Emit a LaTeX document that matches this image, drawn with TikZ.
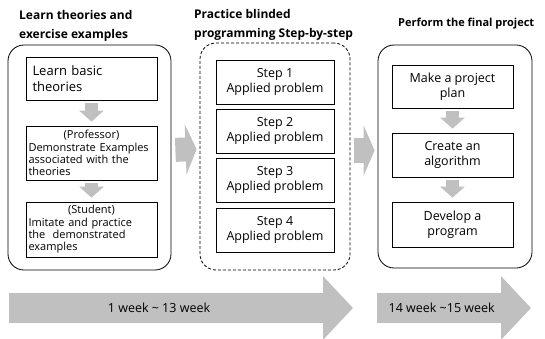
\documentclass[tikz,border=0pt]{standalone}
\usepackage{fontspec}
\setmainfont{Open Sans}
\usetikzlibrary{arrows.meta,positioning}
\definecolor{arrowgray}{RGB}{192,192,192}
\hyphenpenalty=10000
\begin{document}
\begin{tikzpicture}[x=1pt,y=-1pt]
    \tikzset{stage/.style = {draw, rounded corners=16pt, line width=0.8pt}}
    \tikzset{task/.style = {draw, line width=0.7pt, align=center, minimum width=131pt, minimum height=44pt, font=\fontsize{12.5}{15}\selectfont}}
    \tikzset{note/.style = {task, align=left, text width=126pt, inner xsep=2.5pt, font=\fontsize{11}{12.3}\selectfont}}
    \tikzset{heading/.style = {anchor=west, align=left, inner sep=0pt, font=\fontsize{12}{19}\selectfont\bfseries}}
    \tikzset{downarrow/.style = {arrowgray, line width=13pt, -{Triangle[length=11pt,width=24pt]}, shorten <=3pt, shorten >=4pt}}
    \tikzset{phasearrow/.style = {arrowgray, line width=24pt, -{Triangle[length=11pt,width=50pt]}, shorten <=4pt, shorten >=3pt}}
    \tikzset{weekarrow/.style = {arrowgray, line width=30pt, -{Triangle[length=30pt,width=62pt]}}}
    \useasboundingbox (0,0) rectangle (545,339);

    % headings
    \node[heading] (t1) at (19,26) {Learn theories and\\exercise examples};
    \node[heading] (t2) at (194,25) {Practice blinded\\programming Step-by-step};
    \node[heading, font=\fontsize{11}{19}\selectfont\bfseries] (t3) at (398,24) {Perform the final project};

    % stages
    \node[stage, minimum width=163pt, minimum height=225pt] (learn) at (89.5,157.5) {};
    \node[stage, dash pattern=on 3pt off 2pt, minimum width=150pt, minimum height=227pt] (blind) at (275,156.5) {};
    \node[stage, minimum width=154pt, minimum height=223pt] (perform) at (455,156.5) {};

    % learn theories
    \node[task, align=left, text width=118pt, inner xsep=6.5pt, minimum height=43pt, font=\fontsize{13}{16}\selectfont] (a1) at (91.5,78.5) {Learn basic\\theories};
    \node[note, minimum height=54pt] (a2) at (91.5,153) {\makebox[\linewidth]{(Professor)}\\Demonstrate Examples\\associated with the\\theories};
    \node[note, minimum height=55pt] (a3) at (91.5,229.5) {\makebox[\linewidth]{(Student)}\\Imitate and practice\\the~~demonstrated\\examples};
    \draw[downarrow] (a1) -- (a2);
    \draw[downarrow] (a2) -- (a3);

    % blinded programming
    \node[task, minimum width=118pt] (s1) at (275,82) {Step 1\\Applied problem};
    \node[task, minimum width=118pt] (s2) at (275,131) {Step 2\\Applied problem};
    \node[task, minimum width=118pt] (s3) at (275,180) {Step 3\\Applied problem};
    \node[task, minimum width=118pt] (s4) at (275,230) {Step 4\\Applied problem};

    % final project
    \node[task, minimum width=121pt, minimum height=43pt] (b1) at (452.5,86.5) {Make a project\\plan};
    \node[task, minimum width=121pt] (b2) at (452.5,155) {Create an\\algorithm};
    \node[task, minimum width=121pt, minimum height=45pt] (b3) at (452.5,224.5) {Develop a\\program};
    \draw[downarrow] (b1) -- (b2);
    \draw[downarrow] (b2) -- (b3);

    % between stages
    \draw[phasearrow] ([yshift=7.5pt]learn.east) -- ([yshift=7.5pt]blind.west);
    \draw[phasearrow] ([yshift=6pt]blind.east) -- ([yshift=6pt]perform.west);

    % weeks
    \coordinate (w1) at (9,308);
    \coordinate (w2) at (353,308);
    \coordinate (w3) at (377,308);
    \coordinate (w4) at (531,308);
    \draw[weekarrow] (w1) -- (w2) node[pos=0.436, text=black, font=\fontsize{12.5}{15}\selectfont] (m1) {1 week \textasciitilde{} 13 week};
    \draw[weekarrow] (w3) -- (w4) node[pos=0.42, text=black, font=\fontsize{12.5}{15}\selectfont] (m2) {14 week \textasciitilde15 week};
\end{tikzpicture}
\end{document}
